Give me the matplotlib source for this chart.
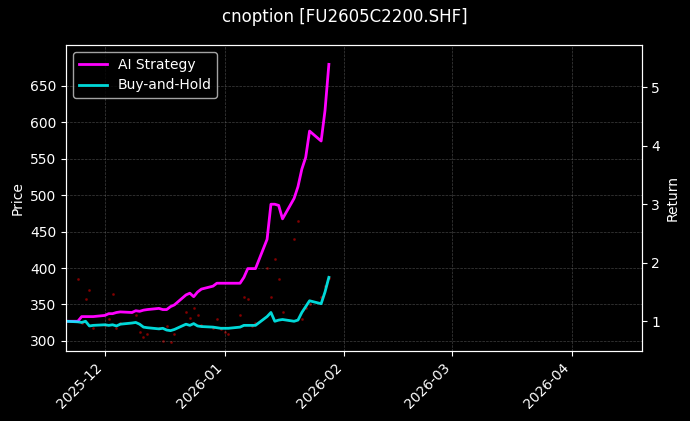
import matplotlib
matplotlib.use("Agg")
import matplotlib.pyplot as plt
import matplotlib.dates as mdates
import pandas as pd

ai = [1.0, 1.0, 1.08, 1.08, 1.08, 1.08, 1.1, 1.13, 1.13, 1.15, 1.16,
      1.15, 1.18, 1.17, 1.19, 1.2, 1.22, 1.2, 1.2, 1.25, 1.28,
      1.45, 1.48, 1.42, 1.5, 1.55, 1.6, 1.65, 1.65, 1.65, 1.65,
      1.65, 1.75, 1.9, 1.9, 1.9, 2.4, 3.0, 3.0, 2.98, 2.75,
      3.1, 3.3, 3.6, 3.8, 4.25, 4.08, 4.6, 5.39]
bh = [1.0, 0.99, 0.98, 1.0, 0.92, 0.93, 0.94, 0.93, 0.94, 0.92, 0.95,
      0.97, 0.98, 0.95, 0.9, 0.89, 0.87, 0.88, 0.85, 0.84, 0.86,
      0.95, 0.93, 0.96, 0.92, 0.91, 0.9, 0.89, 0.88, 0.88, 0.88,
      0.9, 0.93, 0.93, 0.93, 0.93, 1.08, 1.15, 1.0, 1.02, 1.03,
      1.0, 1.02, 1.15, 1.25, 1.35, 1.3, 1.5, 1.75]
price = [327, 385, 325, 358, 370, 318, 322, 330, 365, 318, 325,
         340, 335, 312, 305, 310, 318, 300, 320, 298, 310,
         340, 332, 345, 335, 322, 318, 330, 316, 312, 310,
         335, 360, 358, 320, 325, 400, 360, 412, 385, 340,
         440, 465, 330, 345, 350, 360, 375, 387]
dates = pd.bdate_range("2025-11-21", periods=len(ai))

plt.style.use("dark_background")
fig, ax = plt.subplots(figsize=(6.9, 4.21), dpi=100)
ax.scatter(dates, price, s=1, color="#8b0000", alpha=0.8)
ax.set_ylim(286, 706)
ax.set_yticks(range(300, 651, 50))
ax.set_ylabel("Price")
ax.grid(True, linestyle="--", linewidth=0.5, color="gray", alpha=0.5)

ax2 = ax.twinx()
ax2.plot(dates, ai, color="#ff00ff", lw=2, label="AI Strategy")
ax2.plot(dates, bh, color="#00ffff", lw=2, alpha=0.85, label="Buy-and-Hold")
ax2.set_ylim(0.49, 5.72)
ax2.set_ylabel("Return")
ax2.legend(loc="upper left")

ax.set_xlim(pd.Timestamp("2025-11-21"), pd.Timestamp("2026-04-19"))
ax.xaxis.set_major_locator(mdates.MonthLocator())
ax.xaxis.set_major_formatter(mdates.DateFormatter("%Y-%m"))
plt.setp(ax.get_xticklabels(), rotation=45, ha="right")
fig.suptitle("cnoption [FU2605C2200.SHF]")
fig.subplots_adjust(left=0.096, right=0.93, top=0.893, bottom=0.166)
fig.savefig("out.png")
